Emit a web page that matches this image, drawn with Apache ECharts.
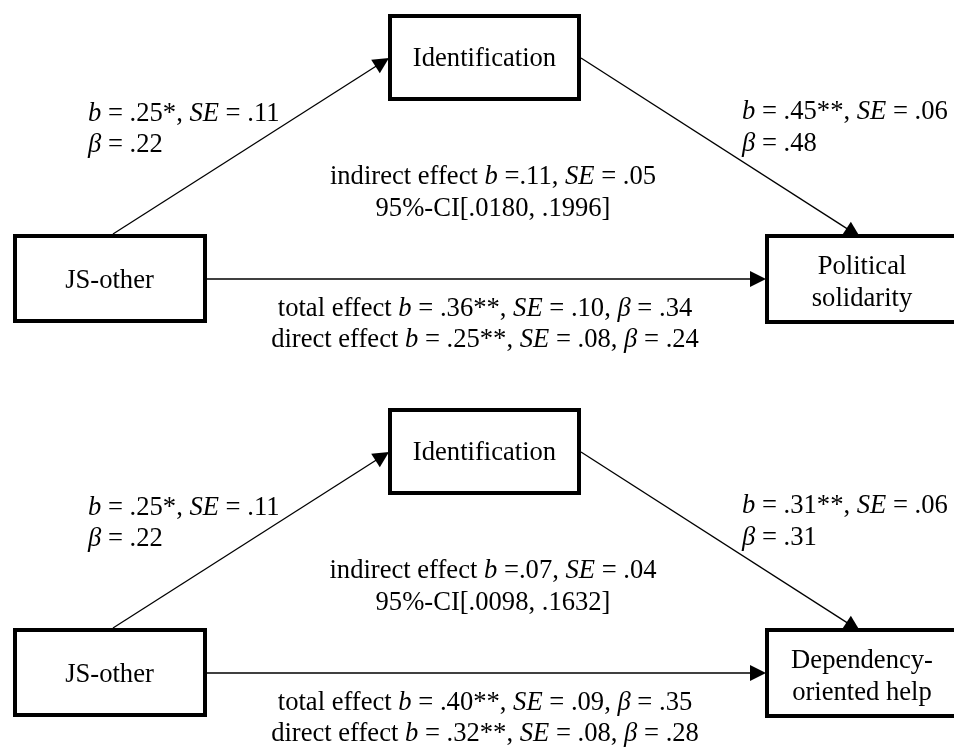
<!DOCTYPE html>
<html><head><meta charset="utf-8">
<script src="https://cdn.jsdelivr.net/npm/echarts@6/dist/echarts.min.js"></script>
<style>html,body{margin:0;padding:0;background:#fff}#c{width:954px;height:747px}</style>
</head><body><div id="c"></div>
<script>
// ---- data (texts and coefficients) ----
const predictorNames = ['JS-other', 'JS-other'];
const mediatorNames = ['Identification', 'Identification'];
const outcomeLines = [['Political', 'solidarity'], ['Dependency-', 'oriented help']];
const aPathB = ['.25', '.25'];
const aPathSig = ['*', '*'];
const aPathSE = ['.11', '.11'];
const aPathBeta = ['.22', '.22'];
const bPathB = ['.45', '.31'];
const bPathSig = ['**', '**'];
const bPathSE = ['.06', '.06'];
const bPathBeta = ['.48', '.31'];
const indirectB = ['.11', '.07'];
const indirectSE = ['.05', '.04'];
const ciLow = ['.0180', '.0098'];
const ciHigh = ['.1996', '.1632'];
const totalB = ['.36', '.40'];
const totalSig = ['**', '**'];
const totalSE = ['.10', '.09'];
const totalBeta = ['.34', '.35'];
const directB = ['.25', '.32'];
const directSig = ['**', '**'];
const directSE = ['.08', '.08'];
const directBeta = ['.24', '.28'];

// ---- layout (diagram units, one panel; second panel shifted down) ----
const panelOffset = [0, 394];
const textShift = 2;
const layout = {
  pred: [13, 234, 207, 323],
  med: [388, 14, 581, 101],
  out: [765, 234, 959, 324],
  arrowA: [[113, 234], [389, 58]],
  arrowB: [[581, 58], [860, 237]],
  arrowC: [[207, 279], [766, 279]],
  aLabel: { x: 88, ys: [112, 143], align: 'left' },
  bLabel: { x: 742, ys: [110, 142], align: 'left' },
  indLabel: { x: 493, ys: [175, 207], align: 'center' },
  totLabel: { x: 485, ys: [307, 338], align: 'center' },
  predText: { x: 109.5, ys: [279] },
  medText: { x: 484.5, ys: [57] },
  outText: { x: 862, ys: [265, 297] }
};

const FONT = '"Liberation Serif", "Times New Roman", serif';
const FS = 26.6;
const rich = { i: { fontStyle: 'italic', fontSize: FS, fontFamily: FONT, fill: '#000' } };

// build element lists
const boxes = [], arrows = [], texts = [];
panelOffset.forEach((dy, p) => {
  ['pred', 'med', 'out'].forEach(k => {
    const b = layout[k];
    boxes.push([b[0], b[1] + dy, b[2], b[3] + dy]);
  });
  ['arrowA', 'arrowB', 'arrowC'].forEach(k => {
    const a = layout[k];
    arrows.push([a[0][0], a[0][1] + dy, a[1][0], a[1][1] + dy]);
  });
  const addText = (spec, lines) => {
    lines.forEach((t, i) => texts.push({ value: [spec.x, spec.ys[i] + dy + textShift], text: t, align: spec.align || 'center' }));
  };
  addText(layout.predText, [predictorNames[p]]);
  addText(layout.medText, [mediatorNames[p]]);
  addText(layout.outText, outcomeLines[p]);
  addText(layout.aLabel, [
    `{i|b} = ${aPathB[p]}${aPathSig[p]}, {i|SE} = ${aPathSE[p]}`,
    `{i|β} = ${aPathBeta[p]}`
  ]);
  addText(layout.bLabel, [
    `{i|b} = ${bPathB[p]}${bPathSig[p]}, {i|SE} = ${bPathSE[p]}`,
    `{i|β} = ${bPathBeta[p]}`
  ]);
  addText(layout.indLabel, [
    `indirect effect {i|b} =${indirectB[p]}, {i|SE} = ${indirectSE[p]}`,
    `95%-CI[${ciLow[p]}, ${ciHigh[p]}]`
  ]);
  addText(layout.totLabel, [
    `total effect {i|b} = ${totalB[p]}${totalSig[p]}, {i|SE} = ${totalSE[p]}, {i|β} = ${totalBeta[p]}`,
    `direct effect {i|b} = ${directB[p]}${directSig[p]}, {i|SE} = ${directSE[p]}, {i|β} = ${directBeta[p]}`
  ]);
});

const chart = echarts.init(document.getElementById('c'), null, { renderer: 'canvas' });
chart.setOption({
  backgroundColor: '#fff',
  animation: false,
  grid: { left: 0, right: 0, top: 0, bottom: 0 },
  xAxis: { type: 'value', min: 0, max: 954, show: false },
  yAxis: { type: 'value', min: 0, max: 747, inverse: true, show: false },
  series: [
    {
      type: 'custom', coordinateSystem: 'cartesian2d', clip: false, z: 1,
      data: arrows,
      renderItem: (params, api) => {
        const p0 = api.coord([api.value(0), api.value(1)]);
        const p1 = api.coord([api.value(2), api.value(3)]);
        const dx = p1[0] - p0[0], dyy = p1[1] - p0[1];
        const len = Math.hypot(dx, dyy);
        const ux = dx / len, uy = dyy / len, nx = -uy, ny = ux;
        const L = 16, W = 8;
        const bx = p1[0] - ux * L, by = p1[1] - uy * L;
        return {
          type: 'group',
          children: [
            { type: 'line', shape: { x1: p0[0], y1: p0[1], x2: bx + ux, y2: by + uy }, style: { stroke: '#000', lineWidth: 1.3 } },
            { type: 'polygon', shape: { points: [[p1[0], p1[1]], [bx + nx * W, by + ny * W], [bx - nx * W, by - ny * W]] }, style: { fill: '#000' } }
          ]
        };
      }
    },
    {
      type: 'custom', coordinateSystem: 'cartesian2d', clip: false, z: 2,
      data: boxes,
      renderItem: (params, api) => {
        const a = api.coord([api.value(0), api.value(1)]);
        const b = api.coord([api.value(2), api.value(3)]);
        return {
          type: 'rect',
          shape: { x: a[0] + 2, y: a[1] + 2, width: b[0] - a[0] - 4, height: b[1] - a[1] - 4 },
          style: { fill: '#fff', stroke: '#000', lineWidth: 4 }
        };
      }
    },
    {
      type: 'custom', coordinateSystem: 'cartesian2d', clip: false, z: 3,
      data: texts,
      renderItem: (params, api) => {
        const item = texts[params.dataIndex];
        const pt = api.coord([api.value(0), api.value(1)]);
        return {
          type: 'text',
          style: {
            x: pt[0], y: pt[1], text: item.text,
            fill: '#000', fontSize: FS, fontFamily: FONT,
            align: item.align, verticalAlign: 'middle', rich: rich
          }
        };
      }
    }
  ]
});
</script>
</body></html>
